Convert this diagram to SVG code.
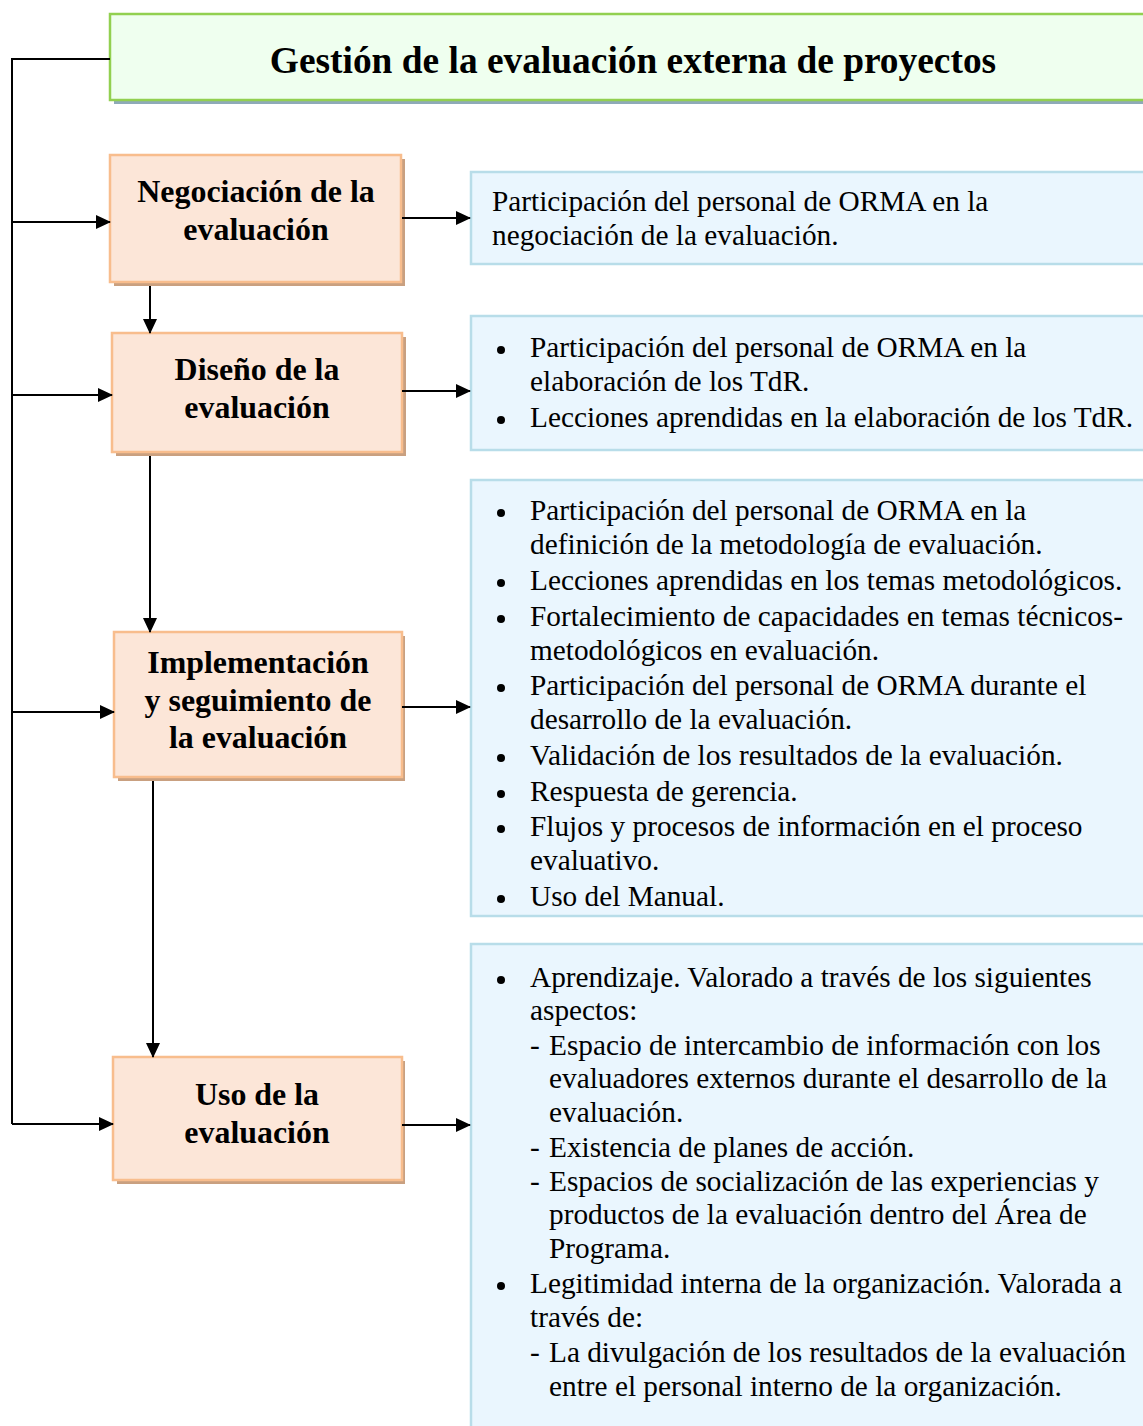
<svg xmlns="http://www.w3.org/2000/svg" width="1143" height="1426" viewBox="0 0 1143 1426">
<defs>
<style>
.title{font-family:"Liberation Serif","Times New Roman",serif;font-weight:bold;font-size:37.4px;fill:#000}
.nt{font-family:"Liberation Serif","Times New Roman",serif;font-weight:bold;font-size:31.9px;fill:#000;text-anchor:middle}
.bt{font-family:"Liberation Serif","Times New Roman",serif;font-size:29.3px;fill:#000}
.node{fill:#fce6d8;stroke:#f8bd8d;stroke-width:2.5}
.nshadow{fill:#c9a080}
.info{fill:#eaf6fe;stroke:#b8dde9;stroke-width:2.5}
.con{stroke:#000;stroke-width:2;fill:none}
</style>
<marker id="arr" markerWidth="15" markerHeight="14" refX="14" refY="7" orient="auto" markerUnits="userSpaceOnUse">
<path d="M0,0 L15,7 L0,14 Z" fill="#000"/>
</marker>
</defs>
<rect width="1143" height="1426" fill="#fff"/>

<g id="title">
<rect x="114" y="18" width="1040" height="86" fill="#8eaab8"/>
<rect x="110" y="14" width="1040" height="86" fill="#efffef" stroke="#92d050" stroke-width="2.5"/>
<text class="title" x="633" y="73" text-anchor="middle">Gestión de la evaluación externa de proyectos</text>
</g>

<g id="n1">
<rect class="nshadow" x="114" y="159" width="291" height="127"/>
<rect class="node" x="110" y="155" width="291" height="127"/>
<text class="nt" x="256" y="202">Negociación de la</text>
<text class="nt" x="256" y="240">evaluación</text>
</g>

<g id="n2">
<rect class="nshadow" x="116" y="337" width="290" height="119"/>
<rect class="node" x="112" y="333" width="290" height="119"/>
<text class="nt" x="257" y="380">Diseño de la</text>
<text class="nt" x="257" y="418">evaluación</text>
</g>

<g id="n3">
<rect class="nshadow" x="118" y="636" width="287" height="145"/>
<rect class="node" x="114" y="632" width="288" height="145"/>
<text class="nt" x="258" y="673">Implementación</text>
<text class="nt" x="258" y="711">y seguimiento de</text>
<text class="nt" x="258" y="748">la evaluación</text>
</g>

<g id="n4">
<rect class="nshadow" x="117" y="1061" width="288" height="123"/>
<rect class="node" x="113" y="1057" width="289" height="123"/>
<text class="nt" x="257" y="1105">Uso de la</text>
<text class="nt" x="257" y="1143">evaluación</text>
</g>

<g id="i1">
<rect class="info" x="471" y="172" width="690" height="92"/>
<text class="bt" x="492" y="211">Participación del personal de ORMA en la</text>
<text class="bt" x="492" y="245">negociación de la evaluación.</text>
</g>

<g id="i2">
<rect class="info" x="471" y="316" width="690" height="134"/>
<circle cx="501" cy="350" r="4"/>
<text class="bt" x="530" y="357">Participación del personal de ORMA en la</text>
<text class="bt" x="530" y="391">elaboración de los TdR.</text>
<circle cx="501" cy="420" r="4"/>
<text class="bt" x="530" y="427">Lecciones aprendidas en la elaboración de los TdR.</text>
</g>

<g id="i3">
<rect class="info" x="471" y="480" width="690" height="436"/>
<circle cx="501" cy="513" r="4"/>
<text class="bt" x="530" y="520">Participación del personal de ORMA en la</text>
<text class="bt" x="530" y="554">definición de la metodología de evaluación.</text>
<circle cx="501" cy="583" r="4"/>
<text class="bt" x="530" y="590">Lecciones aprendidas en los temas metodológicos.</text>
<circle cx="501" cy="619" r="4"/>
<text class="bt" x="530" y="626">Fortalecimiento de capacidades en temas técnicos-</text>
<text class="bt" x="530" y="660">metodológicos en evaluación.</text>
<circle cx="501" cy="688" r="4"/>
<text class="bt" x="530" y="695">Participación del personal de ORMA durante el</text>
<text class="bt" x="530" y="729">desarrollo de la evaluación.</text>
<circle cx="501" cy="758" r="4"/>
<text class="bt" x="530" y="765">Validación de los resultados de la evaluación.</text>
<circle cx="501" cy="794" r="4"/>
<text class="bt" x="530" y="801">Respuesta de gerencia.</text>
<circle cx="501" cy="829" r="4"/>
<text class="bt" x="530" y="836">Flujos y procesos de información en el proceso</text>
<text class="bt" x="530" y="870">evaluativo.</text>
<circle cx="501" cy="899" r="4"/>
<text class="bt" x="530" y="906">Uso del Manual.</text>
</g>

<g id="i4">
<rect class="info" x="471" y="944" width="690" height="500"/>
<circle cx="501" cy="980" r="4"/>
<text class="bt" x="530" y="987">Aprendizaje. Valorado a través de los siguientes</text>
<text class="bt" x="530" y="1020">aspectos:</text>
<text class="bt" x="530" y="1055">-</text>
<text class="bt" x="549" y="1055">Espacio de intercambio de información con los</text>
<text class="bt" x="549" y="1088">evaluadores externos durante el desarrollo de la</text>
<text class="bt" x="549" y="1122">evaluación.</text>
<text class="bt" x="530" y="1157">-</text>
<text class="bt" x="549" y="1157">Existencia de planes de acción.</text>
<text class="bt" x="530" y="1191">-</text>
<text class="bt" x="549" y="1191">Espacios de socialización de las experiencias y</text>
<text class="bt" x="549" y="1224">productos de la evaluación dentro del Área de</text>
<text class="bt" x="549" y="1258">Programa.</text>
<circle cx="501" cy="1286" r="4"/>
<text class="bt" x="530" y="1293">Legitimidad interna de la organización. Valorada a</text>
<text class="bt" x="530" y="1327">través de:</text>
<text class="bt" x="530" y="1362">-</text>
<text class="bt" x="549" y="1362">La divulgación de los resultados de la evaluación</text>
<text class="bt" x="549" y="1396">entre el personal interno de la organización.</text>
</g>

<g id="connectors">
<path class="con" d="M110,59 H12 V1124"/>
<line class="con" x1="12" y1="222" x2="110" y2="222" marker-end="url(#arr)"/>
<line class="con" x1="12" y1="395" x2="112" y2="395" marker-end="url(#arr)"/>
<line class="con" x1="12" y1="712" x2="114" y2="712" marker-end="url(#arr)"/>
<line class="con" x1="12" y1="1124" x2="113" y2="1124" marker-end="url(#arr)"/>
<line class="con" x1="150" y1="286" x2="150" y2="333" marker-end="url(#arr)"/>
<line class="con" x1="150" y1="456" x2="150" y2="632" marker-end="url(#arr)"/>
<line class="con" x1="153" y1="781" x2="153" y2="1057" marker-end="url(#arr)"/>
<line class="con" x1="402" y1="218" x2="470" y2="218" marker-end="url(#arr)"/>
<line class="con" x1="402" y1="391" x2="470" y2="391" marker-end="url(#arr)"/>
<line class="con" x1="402" y1="707" x2="470" y2="707" marker-end="url(#arr)"/>
<line class="con" x1="402" y1="1125" x2="470" y2="1125" marker-end="url(#arr)"/>
</g>
</svg>
